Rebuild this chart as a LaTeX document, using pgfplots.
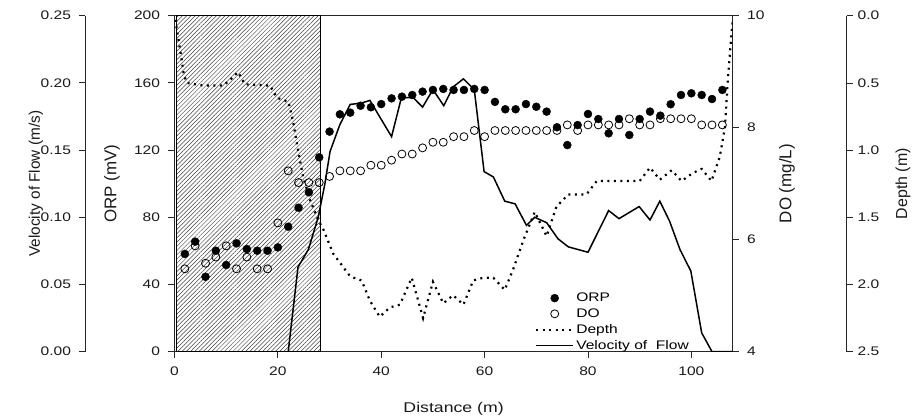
\documentclass[border=0pt]{standalone}
\usepackage{fontspec}
\setmainfont{Liberation Sans}[FakeStretch=1.25]
\newfontfamily\plainfont{Liberation Sans}
\usepackage{pgfplots}
\pgfplotsset{compat=1.18}
\usetikzlibrary{patterns.meta}

\pgfplotsset{
  base/.style={
    at={(0,0)}, anchor=south west, scale only axis,
    width=558.2bp, height=336bp,
    xmin=0, xmax=108,
    tick align=outside, major tick length=6bp,
    tick style={black!85, line width=0.8bp},
    axis line style={black!85, line width=0.8bp},
    every tick label/.append style={font=\fontsize{12.5}{14}\selectfont, text=black!90},
    label style={text=black!90},
    /pgf/number format/assume math mode=true,
  },
  markleg/.style={legend image code/.code={\draw[##1] plot coordinates {(18.5bp,0bp)};}},
  lineleg/.style={legend image code/.code={\draw[##1] (0bp,0bp) -- (37bp,0bp);}},
}

\begin{document}
\begin{tikzpicture}

% ORP (left axis) and distance
\begin{axis}[base, ymin=0, ymax=200,
  xtick={0,20,40,60,80,100}, ytick={0,40,80,120,160,200},
  xtick pos=bottom, ytick pos=left,
  xticklabel style={yshift=-6bp},
  yticklabel style={xshift=-5bp},
  xlabel={Distance (m)}, ylabel={ORP (mV)},
  xlabel style={at={(rel axis cs:0.5,-0.1705)}, anchor=center, font=\fontsize{14.2}{16}\selectfont},
  ylabel style={at={(rel axis cs:-0.112,0.5)}, anchor=center, font=\plainfont\fontsize{17}{19}\selectfont}]
\addplot[draw=black, line width=0.6bp,
  pattern={Lines[angle=45, distance=3bp, line width=0.5bp]}, pattern color=black!75]
  coordinates {(0.3,0) (0.3,200) (28.3,200) (28.3,0)} \closedcycle;
\addplot[only marks, mark=*, mark size=4bp, black] coordinates {
 (2,58.2) (4,65.5) (6,44.6) (8,60.1) (10,51.6) (12,64.5) (14,61.1) (16,60.1) (18,60.1) (20,62.1)
 (22,74.4) (24,85.7) (26,94.9) (28,115.7) (30,131) (32,141.3) (34,142.3) (36,146.4) (38,145.5) (40,147.4)
 (42,150.8) (44,151.8) (46,152.8) (48,154.8) (50,155.8) (52,156.4) (54,155.8) (56,155.8) (58,156.4) (60,155.8)
 (62,148.7) (64,144.3) (66,144.3) (68,147.4) (70,145.8) (72,142.9) (74,133.6) (76,123) (78,134.9) (80,141.5)
 (82,138.5) (84,130) (86,138.5) (88,129) (90,138.5) (92,142.9) (94,140.5) (96,147.3) (98,152.8) (100,153.8)
 (102,152.8) (104,150.4) (106,155.8)};
\end{axis}

% DO (right axis)
\begin{axis}[base, hide x axis, axis y line*=right, ymin=4, ymax=10,
  ytick={4,6,8,10}, yticklabel style={xshift=5bp},
  ylabel={DO (mg/L)},
  ylabel style={at={(rel axis cs:1.0973,0.5)}, anchor=center, font=\plainfont\fontsize{17}{19}\selectfont}]
\addplot[only marks, mark=o, mark size=4bp, black, mark options={fill=white, line width=0.8bp}] coordinates {
 (2,5.48) (4,5.89) (6,5.58) (8,5.69) (10,5.89) (12,5.48) (14,5.69) (16,5.48) (18,5.48) (20,6.30)
 (22,7.23) (24,7.02) (26,7.02) (28,7.02) (30,7.13) (32,7.23) (34,7.23) (36,7.23) (38,7.33) (40,7.33)
 (42,7.42) (44,7.53) (46,7.53) (48,7.64) (50,7.74) (52,7.74) (54,7.84) (56,7.84) (58,7.95) (60,7.84)
 (62,7.95) (64,7.95) (66,7.95) (68,7.95) (70,7.95) (72,7.95) (74,7.95) (76,8.05) (78,7.95) (80,8.05)
 (82,8.05) (84,8.05) (86,8.05) (88,8.16) (90,8.05) (92,8.05) (94,8.16) (96,8.16) (98,8.16) (100,8.16)
 (102,8.05) (104,8.05) (106,8.05)};
\end{axis}

% Depth (far right axis, reversed)
\begin{axis}[base, hide x axis, axis y line*=right, axis y line shift=114bp,
  y dir=reverse, ymin=0, ymax=2.5, ytick={0,0.5,1,1.5,2,2.5},
  yticklabel style={xshift=1.5bp, /pgf/number format/.cd, fixed, fixed zerofill, precision=1},
  ylabel={Depth (m)},
  ylabel style={at={(rel axis cs:1.305,0.5)}, anchor=center, font=\plainfont\fontsize{16}{18}\selectfont}]
\addplot[black, line width=2.2bp, dash pattern=on 2bp off 4.5bp] coordinates {
 (0.3,0.03) (0.4,0.09) (0.9,0.21) (1.4,0.33) (1.8,0.44) (2.4,0.50) (5.6,0.52) (9.4,0.52) (10.7,0.48) (12.3,0.42)
 (13.6,0.51) (18.5,0.52) (19.8,0.61) (22,0.64) (22.3,0.68) (23,0.80) (23.9,1.0) (24.9,1.2) (26.2,1.37) (27.8,1.52)
 (28.8,1.59) (30.7,1.77) (34,1.94) (36.2,1.97) (37.8,2.12) (39.7,2.24) (41.7,2.17) (43.6,2.15) (45.9,1.95) (48.1,2.25)
 (50,1.98) (52,2.14) (53.9,2.08) (55.9,2.15) (57.8,1.97) (59.7,1.95) (61.7,1.95) (63.9,2.04) (65.5,1.89) (67.5,1.67)
 (69.7,1.46) (72,1.64) (73.9,1.42) (76.2,1.33) (79.7,1.33) (81.7,1.23) (90,1.23) (92,1.13) (93.9,1.22) (96.2,1.15)
 (98.1,1.23) (100.3,1.17) (102,1.14) (103.9,1.23) (105.5,1.05) (106.5,0.83) (107.1,0.45) (108,0.03)};
\end{axis}

% Velocity of flow (far left axis)
\begin{axis}[base, hide x axis, axis y line*=left, axis y line shift=89bp,
  ymin=0, ymax=0.25, ytick={0,0.05,0.1,0.15,0.2,0.25},
  yticklabel style={xshift=-5bp, /pgf/number format/.cd, fixed, fixed zerofill, precision=2},
  ylabel={Velocity of Flow (m/s)},
  ylabel style={at={(rel axis cs:-0.2481,0.5)}, anchor=center, font=\plainfont\fontsize{15.4}{17}\selectfont},
  legend cell align=left,
  legend style={draw=none, fill=none, at={(0.6403,0.187)}, anchor=north west,
    font=\fontsize{12.5}{14}\selectfont, row sep=1.5bp}]
\addlegendimage{only marks, mark=*, mark size=4bp, black, markleg}
\addlegendentry{ORP}
\addlegendimage{only marks, mark=o, mark size=4bp, black, mark options={fill=white, line width=0.8bp}, markleg}
\addlegendentry{DO}
\addlegendimage{black, line width=2.2bp, dash pattern=on 2bp off 4.5bp, lineleg}
\addlegendentry{Depth}
\addplot[black, line width=1.5bp, lineleg] coordinates {
 (22,0) (23.9,0.063) (25.9,0.076) (27.8,0.100) (29.1,0.125) (30.1,0.149) (32,0.169) (34,0.184) (36.2,0.185) (37.8,0.187)
 (42,0.160) (43.9,0.189) (46.2,0.189) (48,0.182) (50,0.195) (52.1,0.183) (53.9,0.197) (55.9,0.203) (58,0.195) (59.9,0.134)
 (61.7,0.130) (63.9,0.112) (65.9,0.110) (68.1,0.094) (69.7,0.100) (72,0.096) (74.2,0.084) (76.2,0.078) (80,0.074) (84,0.105)
 (86,0.099) (89.9,0.108) (92,0.098) (93.9,0.112) (95.8,0.097) (97.8,0.076) (99.9,0.060) (102,0.014) (104,0) (108,0)};
\addlegendentry{Velocity of~ Flow}
\end{axis}

\path (-174.5bp,-65.3bp) rectangle (739.5bp,351.7bp);
\end{tikzpicture}
\end{document}
